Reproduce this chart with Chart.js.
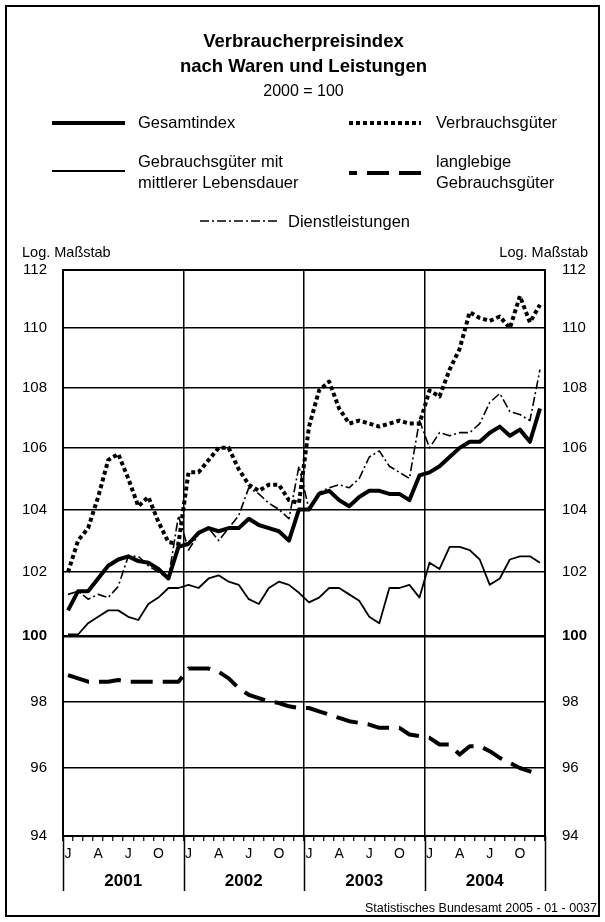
<!DOCTYPE html>
<html lang="de">
<head>
<meta charset="utf-8">
<title>Verbraucherpreisindex</title>
<script src="https://cdn.jsdelivr.net/npm/chart.js@4.4.1/dist/chart.umd.min.js"></script>
<style>
  body { margin: 0; background: #fff; color: #000; font-family: "Liberation Sans", Arial, sans-serif; }
  #page { position: relative; width: 605px; height: 922px; overflow: hidden; }
  #frame { position: absolute; left: 5px; top: 5px; width: 591px; height: 908px; border: 2px solid #000; }
  #chart { position: absolute; left: 0; top: 0; }
  #keys { position: absolute; left: 0; top: 0; }
  .t { position: absolute; white-space: nowrap; }
  .c { left: 5px; width: 597px; text-align: center; }
  .b { font-weight: bold; }
  .leg { font-size: 16.5px; line-height: 21px; }
</style>
</head>
<body>
<div id="page">
  <div id="frame"></div>
  <canvas id="chart" width="605" height="922"></canvas>
  <svg id="keys" width="605" height="260"></svg>

  <div class="t c b" style="top:29px;font-size:18.5px;line-height:24px">Verbraucherpreisindex</div>
  <div class="t c b" style="top:54px;font-size:18.5px;line-height:24px">nach Waren und Leistungen</div>
  <div class="t c" style="top:80px;font-size:16px;line-height:22px">2000 = 100</div>

  <div class="t leg" style="left:138px;top:112px">Gesamtindex</div>
  <div class="t leg" style="left:436px;top:112px">Verbrauchsgüter</div>
  <div class="t leg" style="left:138px;top:151px">Gebrauchsgüter mit<br>mittlerer Lebensdauer</div>
  <div class="t leg" style="left:436px;top:151px">langlebige<br>Gebrauchsgüter</div>
  <div class="t leg" style="left:288px;top:211px">Dienstleistungen</div>

  <div class="t" style="left:22px;top:242px;font-size:14.5px;line-height:20px">Log. Maßstab</div>
  <div class="t" style="right:17px;top:242px;font-size:14.5px;line-height:20px">Log. Maßstab</div>

  <div class="t" style="right:8px;top:900px;font-size:12.5px;line-height:16px">Statistisches Bundesamt 2005 - 01 - 0037</div>
</div>

<script>
const years = ['2001', '2002', '2003', '2004'];
const monthLabels = ['J', 'F', 'M', 'A', 'M', 'J', 'J', 'A', 'S', 'O', 'N', 'D'];
const shownMonths = [0, 3, 6, 9];
const yTicks = [94, 96, 98, 100, 102, 104, 106, 108, 110, 112];

const gesamt = [
  100.8, 101.4, 101.4, 101.8, 102.2, 102.4, 102.5, 102.35, 102.3, 102.1, 101.8, 102.8,
  102.9, 103.25, 103.4, 103.3, 103.4, 103.4, 103.7, 103.5, 103.4, 103.3, 103.0, 104.0,
  104.0, 104.5, 104.6, 104.3, 104.1, 104.4, 104.6, 104.6, 104.5, 104.5, 104.3, 105.1,
  105.2, 105.4, 105.7, 106.0, 106.2, 106.2, 106.5, 106.7, 106.4, 106.6, 106.2, 107.3
];
const verbrauch = [
  102.0, 103.0, 103.4, 104.4, 105.6, 105.8, 105.0, 104.1, 104.4, 103.6, 102.95, 102.9,
  105.2, 105.2, 105.6, 106.0, 106.0, 105.3, 104.8, 104.6, 104.8, 104.8, 104.3, 104.2,
  106.7, 107.9, 108.2, 107.3, 106.8, 106.9, 106.8, 106.7, 106.8, 106.9, 106.8, 106.8,
  107.9, 107.7, 108.6, 109.3, 110.55, 110.35, 110.25, 110.4, 110.0, 111.1, 110.2, 110.8
];
const gebrauchMittel = [
  100.05, 100.05, 100.4, 100.6, 100.8, 100.8, 100.6, 100.5, 101.0, 101.2, 101.5, 101.5,
  101.6, 101.5, 101.8, 101.9, 101.7, 101.6, 101.15, 101.0, 101.5, 101.7, 101.6, 101.35,
  101.05, 101.2, 101.5, 101.5, 101.3, 101.1, 100.6, 100.4, 101.5, 101.5, 101.6, 101.2,
  102.3, 102.1, 102.8, 102.8, 102.7, 102.4, 101.6, 101.8, 102.4, 102.5, 102.5, 102.3
];
const langlebig = [
  98.8, 98.7, 98.6, 98.6, 98.6, 98.65, 98.6, 98.6, 98.6, 98.6, 98.6, 98.6,
  99.0, 99.0, 99.0, 98.9, 98.7, 98.4, 98.2, 98.1, 98.0, 97.95, 97.85, 97.8,
  97.8, 97.7, 97.6, 97.5, 97.4, 97.35, 97.3, 97.2, 97.2, 97.2, 97.0, 96.95,
  96.9, 96.7, 96.7, 96.4, 96.65, 96.65, 96.5, 96.3, 96.15, 96.0, 95.9, 95.8
];
const dienst = [
  101.3, 101.4, 101.15, 101.3, 101.2, 101.55, 102.5, 102.5, 102.2, 102.0, 101.8, 103.8,
  102.7, 103.2, 103.4, 103.0, 103.4, 103.8, 104.7, 104.5, 104.2, 104.0, 103.7, 105.4,
  104.0, 104.55, 104.7, 104.8, 104.7, 105.0, 105.7, 105.9, 105.4, 105.2, 105.0, 106.9,
  106.0, 106.5, 106.4, 106.5, 106.5, 106.8, 107.5, 107.8, 107.2, 107.1, 106.9, 108.6
];

const labels = [];
years.forEach(y => monthLabels.forEach(m => labels.push(m + ' ' + y)));

Chart.defaults.font.family = '"Liberation Sans", Arial, sans-serif';
Chart.defaults.color = '#000';

const base = { borderColor: '#000', pointRadius: 0, tension: 0, borderCapStyle: 'butt', borderJoinStyle: 'round', fill: false };
const datasets = [
  { ...base, label: 'Gesamtindex', data: gesamt, borderWidth: 4, key: [52, 125, 123] },
  { ...base, label: 'Dienstleistungen', data: dienst, borderWidth: 1.6, borderDash: [9, 3, 2, 3], key: [200, 280, 221] },
  { ...base, label: 'Verbrauchsgüter', data: verbrauch, borderWidth: 4, borderDash: [4, 3], key: [349, 421, 123] },
  { ...base, label: 'Gebrauchsgüter mit mittlerer Lebensdauer', data: gebrauchMittel, borderWidth: 1.8, key: [52, 125, 171] },
  { ...base, label: 'langlebige Gebrauchsgüter', data: langlebig, borderWidth: 4, borderDash: [22, 10], key: [349, 421, 173], keyOffset: 14 }
];

// legend samples use the same line styles as the datasets
const svg = document.getElementById('keys');
datasets.forEach(ds => {
  const l = document.createElementNS('http://www.w3.org/2000/svg', 'line');
  l.setAttribute('x1', ds.key[0]); l.setAttribute('x2', ds.key[1]);
  l.setAttribute('y1', ds.key[2]); l.setAttribute('y2', ds.key[2]);
  l.setAttribute('stroke', '#000');
  l.setAttribute('stroke-width', ds.borderWidth);
  if (ds.borderDash) l.setAttribute('stroke-dasharray', ds.borderDash.join(' '));
  if (ds.keyOffset) l.setAttribute('stroke-dashoffset', ds.keyOffset);
  svg.appendChild(l);
});

const yearAxis = {
  id: 'yearAxis',
  afterDraw(chart) {
    const { ctx, chartArea } = chart;
    const x = chart.scales.x;
    ctx.save();
    ctx.strokeStyle = '#000';
    ctx.lineWidth = 1.5;
    for (let k = 0; k <= years.length; k++) {
      const px = Math.round(x.getPixelForValue(k * 12 - 0.5)) + 0.5;
      ctx.beginPath();
      ctx.moveTo(px, chartArea.bottom);
      ctx.lineTo(px, chartArea.bottom + 55);
      ctx.stroke();
    }
    ctx.font = 'bold 17px "Liberation Sans", Arial, sans-serif';
    ctx.fillStyle = '#000';
    ctx.textAlign = 'center';
    ctx.textBaseline = 'middle';
    years.forEach((yr, k) => ctx.fillText(yr, x.getPixelForValue(k * 12 + 5.5), chartArea.bottom + 45));
    ctx.restore();
  }
};

const yAxis = (position, pad, width) => ({
  type: 'logarithmic',
  position,
  min: 94,
  max: 112,
  afterBuildTicks: s => { s.ticks = yTicks.map(v => ({ value: v })); },
  afterFit: s => { s.width = width; },
  border: { display: true, color: '#000', width: 2 },
  grid: {
    display: position === 'left',
    drawTicks: false,
    color: '#000',
    lineWidth: c => (c.tick && c.tick.value === 100 ? 2.5 : (c.tick && c.tick.value === 112 ? 2 : 1.5))
  },
  ticks: {
    padding: pad,
    color: '#000',
    font: c => ({ size: 15, weight: c.tick && c.tick.value === 100 ? 'bold' : 'normal' }),
    callback: v => String(v)
  }
});

new Chart(document.getElementById('chart'), {
  type: 'line',
  data: { labels, datasets },
  options: {
    responsive: false,
    animation: false,
    devicePixelRatio: 1,
    layout: { padding: { top: 270, left: 0, right: 0, bottom: 0 } },
    plugins: { legend: { display: false }, title: { display: false }, tooltip: { enabled: false } },
    scales: {
      x: {
        type: 'category',
        offset: true,
        afterFit: s => { s.height = 86; },
        border: { display: true, color: '#000', width: 2 },
        grid: {
          offset: true,
          drawTicks: true,
          tickLength: 5,
          tickWidth: 1.2,
          tickColor: '#000',
          lineWidth: 1.5,
          color: c => (c.index % 12 === 0 ? '#000' : 'rgba(0,0,0,0)')
        },
        ticks: {
          autoSkip: false,
          maxRotation: 0,
          padding: 5,
          color: '#000',
          font: { size: 14 },
          callback: (v, i) => (shownMonths.includes(i % 12) ? monthLabels[i % 12] : '')
        }
      },
      y: yAxis('left', 16, 63),
      y2: yAxis('right', 17, 60)
    }
  },
  plugins: [yearAxis]
});
</script>
</body>
</html>
